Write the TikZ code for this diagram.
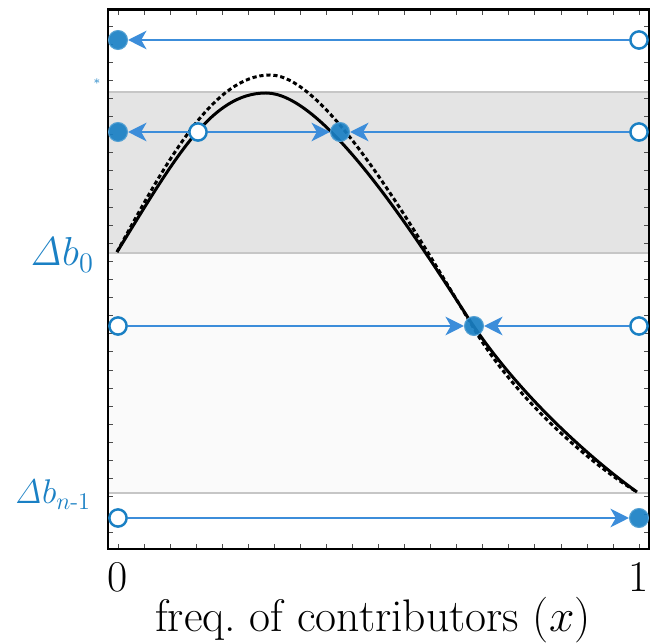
\RequirePackage{fix-cm}
\documentclass[tikz,border=0pt]{standalone}
\usepackage{amsmath}
\usetikzlibrary{arrows.meta}
\definecolor{dotblue}{HTML}{1A80C4}
\definecolor{lineblue}{HTML}{3C8DDA}
\definecolor{bandgray}{HTML}{E4E4E4}
\definecolor{bandpale}{HTML}{FAFAFA}
\definecolor{bandline}{HTML}{C6C6C6}

\begin{document}
\begin{tikzpicture}[x=0.02cm,y=-0.02cm,
  stab/.style={circle,fill=dotblue,fill opacity=0.92,draw=dotblue!75!white,line width=0.6pt,minimum size=10.8pt,inner sep=0pt},
  unstab/.style={circle,fill=white,draw=dotblue,line width=1.4pt,minimum size=9.8pt,inner sep=0pt},
  push/.style={draw=lineblue,line width=1.2pt,-{Stealth[length=10.5pt,width=10.5pt,inset=3pt]}},
  tick/.style={line width=0.4pt,black!70},
  lab/.style={text=dotblue,anchor=base east}]
  \useasboundingbox (0,0) rectangle (653,644);
  % bands
  \fill[bandgray] (108,92) rectangle (649,253);
  \fill[bandpale] (108,253) rectangle (649,493);
  \draw[bandline,line width=0.8pt] (108,92) -- (649,92) (108,253) -- (649,253) (108,493) -- (649,493);
  % ticks
  \foreach \i in {0,...,20} {
    \draw[tick] ({118+26.05*\i},549) -- ++(0,-5);
    \draw[tick] ({118+26.05*\i},10) -- ++(0,5);
  }
  \foreach \j in {0,...,28} {
    \draw[tick] (108,{26+18.1*\j}) -- ++(5,0);
    \draw[tick] (649,{26+18.1*\j}) -- ++(-5,0);
  }
  \draw[line width=1.7pt] (108,10) rectangle (649,549);
  % curves
  \draw[line width=1.7pt,dash pattern=on 2.4pt off 1.6pt] (117,252)
    .. controls (167,160) and (214,75) .. (270,75)
    .. controls (325,75) and (410,223) .. (470,322)
    .. controls (513,398) and (592,465) .. (637,492);
  \draw[line width=1.7pt] (117,252)
    .. controls (175,158) and (211,93) .. (266,93)
    .. controls (321,93) and (405,220) .. (465,313)
    .. controls (517,395) and (595,462) .. (637,492);
  % equilibria
  \node[stab] (f1) at (118,40) {};
  \node[unstab] (u1) at (639,40) {};
  \node[stab] (f2a) at (118,132) {};
  \node[unstab] (u2a) at (198,132) {};
  \node[stab] (f2b) at (340,132) {};
  \node[unstab] (u2b) at (639,132) {};
  \node[unstab] (u3a) at (118,326) {};
  \node[stab] (f3) at (474,326) {};
  \node[unstab] (u3b) at (639,326) {};
  \node[unstab] (u4) at (118,518) {};
  \node[stab] (f4) at (639,518) {};
  \draw[push] (u1) -- (f1);
  \draw[push] (u2a) -- (f2a);
  \draw[push] (u2a) -- (f2b);
  \draw[push] (u2b) -- (f2b);
  \draw[push] (u3a) -- (f3);
  \draw[push] (u3b) -- (f3);
  \draw[push] (u4) -- (f4);
  % labels
  \node[lab,font=\fontsize{23}{27}\selectfont] (db0) at (100,266) {$\mathit{\Delta} b_0$};
  \node[lab,font=\fontsize{19.5}{23}\selectfont] (dbn) at (97,504) {$\mathit{\Delta} b_{n\text{-}1}$};
  \node[text=dotblue,font=\fontsize{7}{7}\selectfont] (star) at (97,82) {$\ast$};
  \node[anchor=base,font=\fontsize{25}{29}\selectfont] (x0) at (118,592) {0};
  \node[anchor=base,font=\fontsize{25}{29}\selectfont] (x1) at (639,592) {1};
  \node[anchor=base,font=\fontsize{26}{30}\selectfont] (xlab) at (373,632) {freq.\ of contributors ($x$)};
\end{tikzpicture}
\end{document}
